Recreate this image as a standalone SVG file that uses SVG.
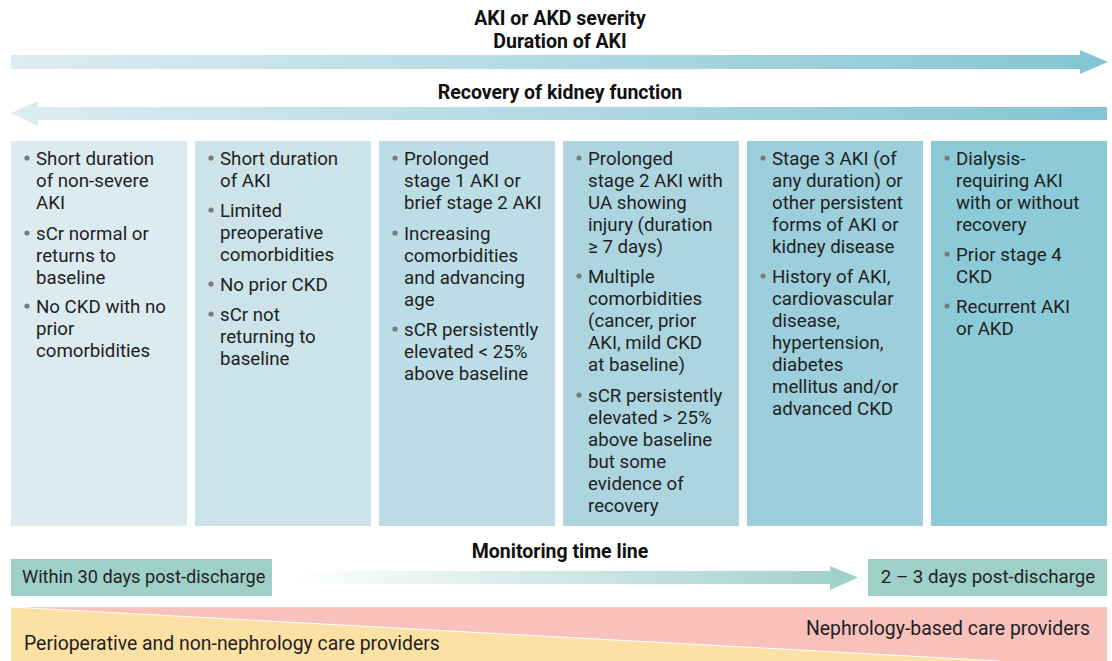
<svg xmlns="http://www.w3.org/2000/svg" width="1112" height="661" viewBox="0 0 1112 661">
<defs>
<linearGradient id="gTop" x1="0" y1="0" x2="1" y2="0">
<stop offset="0" stop-color="#ddedf2"/><stop offset="1" stop-color="#84c5d3"/>
</linearGradient>
<linearGradient id="gMon" x1="0" y1="0" x2="1" y2="0">
<stop offset="0" stop-color="#ffffff"/><stop offset="1" stop-color="#9dd0c7"/>
</linearGradient>
<style>
.t{font-family:Roboto,"Liberation Sans",sans-serif;font-size:18.7px;fill:#1f1f1f}
.w{font-family:Roboto,"Liberation Sans",sans-serif;font-size:19.4px;fill:#1f1f1f}
.h{font-family:Roboto,"Liberation Sans",sans-serif;font-size:19.5px;font-weight:bold;fill:#111}
.b{fill:#7a7a7a}
</style>
</defs>
<rect width="1112" height="661" fill="#fff"/>

<g id="headers">
<text class="h" x="560" y="25" text-anchor="middle">AKI or AKD severity</text>
<text class="h" x="560" y="48" text-anchor="middle">Duration of AKI</text>
<text class="h" x="560" y="99" text-anchor="middle">Recovery of kidney function</text>
</g>

<g id="arrows">
<polygon points="11,55 1080,55 1080,50 1108,62 1080,74 1080,69 11,69" fill="url(#gTop)"/>
<polygon points="1107,107 38,107 38,101 11,113 38,126 38,120 1107,120" fill="url(#gTop)"/>
<polygon points="290,571 830,571 830,566 858,577.5 830,590 830,584 290,584" fill="url(#gMon)"/>
</g>

<g id="col1">
<rect x="11" y="141" width="176" height="385" fill="#dbebf0"/>
<g class="b"><circle cx="27" cy="158" r="2.6"/><circle cx="27" cy="233" r="2.6"/><circle cx="27" cy="306" r="2.6"/></g>
<text class="t"><tspan x="36" y="165">Short duration</tspan><tspan x="36" y="187">of non-severe</tspan><tspan x="36" y="209">AKI</tspan><tspan x="36" y="240">sCr normal or</tspan><tspan x="36" y="262">returns to</tspan><tspan x="36" y="284">baseline</tspan><tspan x="36" y="313">No CKD with no</tspan><tspan x="36" y="335">prior</tspan><tspan x="36" y="357">comorbidities</tspan></text>
</g>

<g id="col2">
<rect x="195" y="141" width="176" height="385" fill="#cce3ea"/>
<g class="b"><circle cx="211" cy="158" r="2.6"/><circle cx="211" cy="210" r="2.6"/><circle cx="211" cy="284" r="2.6"/><circle cx="211" cy="314" r="2.6"/></g>
<text class="t"><tspan x="220" y="165">Short duration</tspan><tspan x="220" y="187">of AKI</tspan><tspan x="220" y="217">Limited</tspan><tspan x="220" y="239">preoperative</tspan><tspan x="220" y="261">comorbidities</tspan><tspan x="220" y="291">No prior CKD</tspan><tspan x="220" y="321">sCr not</tspan><tspan x="220" y="343">returning to</tspan><tspan x="220" y="365">baseline</tspan></text>
</g>

<g id="col3">
<rect x="379" y="141" width="176" height="385" fill="#bcdde5"/>
<g class="b"><circle cx="395" cy="158" r="2.6"/><circle cx="395" cy="233" r="2.6"/><circle cx="395" cy="329" r="2.6"/></g>
<text class="t"><tspan x="404" y="165">Prolonged</tspan><tspan x="404" y="187">stage 1 AKI or</tspan><tspan x="404" y="209">brief stage 2 AKI</tspan><tspan x="404" y="240">Increasing</tspan><tspan x="404" y="262">comorbidities</tspan><tspan x="404" y="284">and advancing</tspan><tspan x="404" y="306">age</tspan><tspan x="404" y="336">sCR persistently</tspan><tspan x="404" y="358">elevated &lt; 25%</tspan><tspan x="404" y="380">above baseline</tspan></text>
</g>

<g id="col4">
<rect x="563" y="141" width="176" height="385" fill="#acd5e0"/>
<g class="b"><circle cx="579" cy="158" r="2.6"/><circle cx="579" cy="276" r="2.6"/><circle cx="579" cy="395" r="2.6"/></g>
<text class="t"><tspan x="588" y="165">Prolonged</tspan><tspan x="588" y="187">stage 2 AKI with</tspan><tspan x="588" y="209">UA showing</tspan><tspan x="588" y="231">injury (duration</tspan><tspan x="588" y="253">≥ 7 days)</tspan><tspan x="588" y="283">Multiple</tspan><tspan x="588" y="305">comorbidities</tspan><tspan x="588" y="327">(cancer, prior</tspan><tspan x="588" y="349">AKI, mild CKD</tspan><tspan x="588" y="371">at baseline)</tspan><tspan x="588" y="402">sCR persistently</tspan><tspan x="588" y="424">elevated &gt; 25%</tspan><tspan x="588" y="446">above baseline</tspan><tspan x="588" y="468">but some</tspan><tspan x="588" y="490">evidence of</tspan><tspan x="588" y="512">recovery</tspan></text>
</g>

<g id="col5">
<rect x="747" y="141" width="176" height="385" fill="#9ccedb"/>
<g class="b"><circle cx="763" cy="158" r="2.6"/><circle cx="763" cy="276" r="2.6"/></g>
<text class="t"><tspan x="772" y="165">Stage 3 AKI (of</tspan><tspan x="772" y="187">any duration) or</tspan><tspan x="772" y="209">other persistent</tspan><tspan x="772" y="231">forms of AKI or</tspan><tspan x="772" y="253">kidney disease</tspan><tspan x="772" y="283">History of AKI,</tspan><tspan x="772" y="305">cardiovascular</tspan><tspan x="772" y="327">disease,</tspan><tspan x="772" y="349">hypertension,</tspan><tspan x="772" y="371">diabetes</tspan><tspan x="772" y="393">mellitus and/or</tspan><tspan x="772" y="415">advanced CKD</tspan></text>
</g>

<g id="col6">
<rect x="931" y="141" width="176" height="385" fill="#8ccad8"/>
<g class="b"><circle cx="947" cy="158" r="2.6"/><circle cx="947" cy="254" r="2.6"/><circle cx="947" cy="306" r="2.6"/></g>
<text class="t"><tspan x="956" y="165">Dialysis-</tspan><tspan x="956" y="187">requiring AKI</tspan><tspan x="956" y="209">with or without</tspan><tspan x="956" y="231">recovery</tspan><tspan x="956" y="261">Prior stage 4</tspan><tspan x="956" y="283">CKD</tspan><tspan x="956" y="313">Recurrent AKI</tspan><tspan x="956" y="335">or AKD</tspan></text>
</g>

<g id="monitoring">
<text class="h" x="560" y="558" text-anchor="middle">Monitoring time line</text>
</g>
<g id="box30">
<rect x="11" y="559" width="261" height="37" fill="#9fd0c8"/>
<text class="t" x="22" y="583" style="font-size:18.2px">Within 30 days post-discharge</text>
</g>
<g id="box23">
<rect x="868" y="559" width="239" height="37" fill="#9fd0c8"/>
<text class="t" x="988" y="583" text-anchor="middle">2 – 3 days post-discharge</text>
</g>

<g id="providers">
<rect x="11" y="607" width="1096" height="54" fill="#f8c1bb"/>
<polygon points="11,607 1000,661 11,661" fill="#fde0a3"/>
<line x1="11" y1="607" x2="1000" y2="661" stroke="#fff" stroke-width="1"/>
<text class="w" x="24" y="650">Perioperative and non-nephrology care providers</text>
<text class="w" x="1090" y="635" text-anchor="end">Nephrology-based care providers</text>
</g>
</svg>
